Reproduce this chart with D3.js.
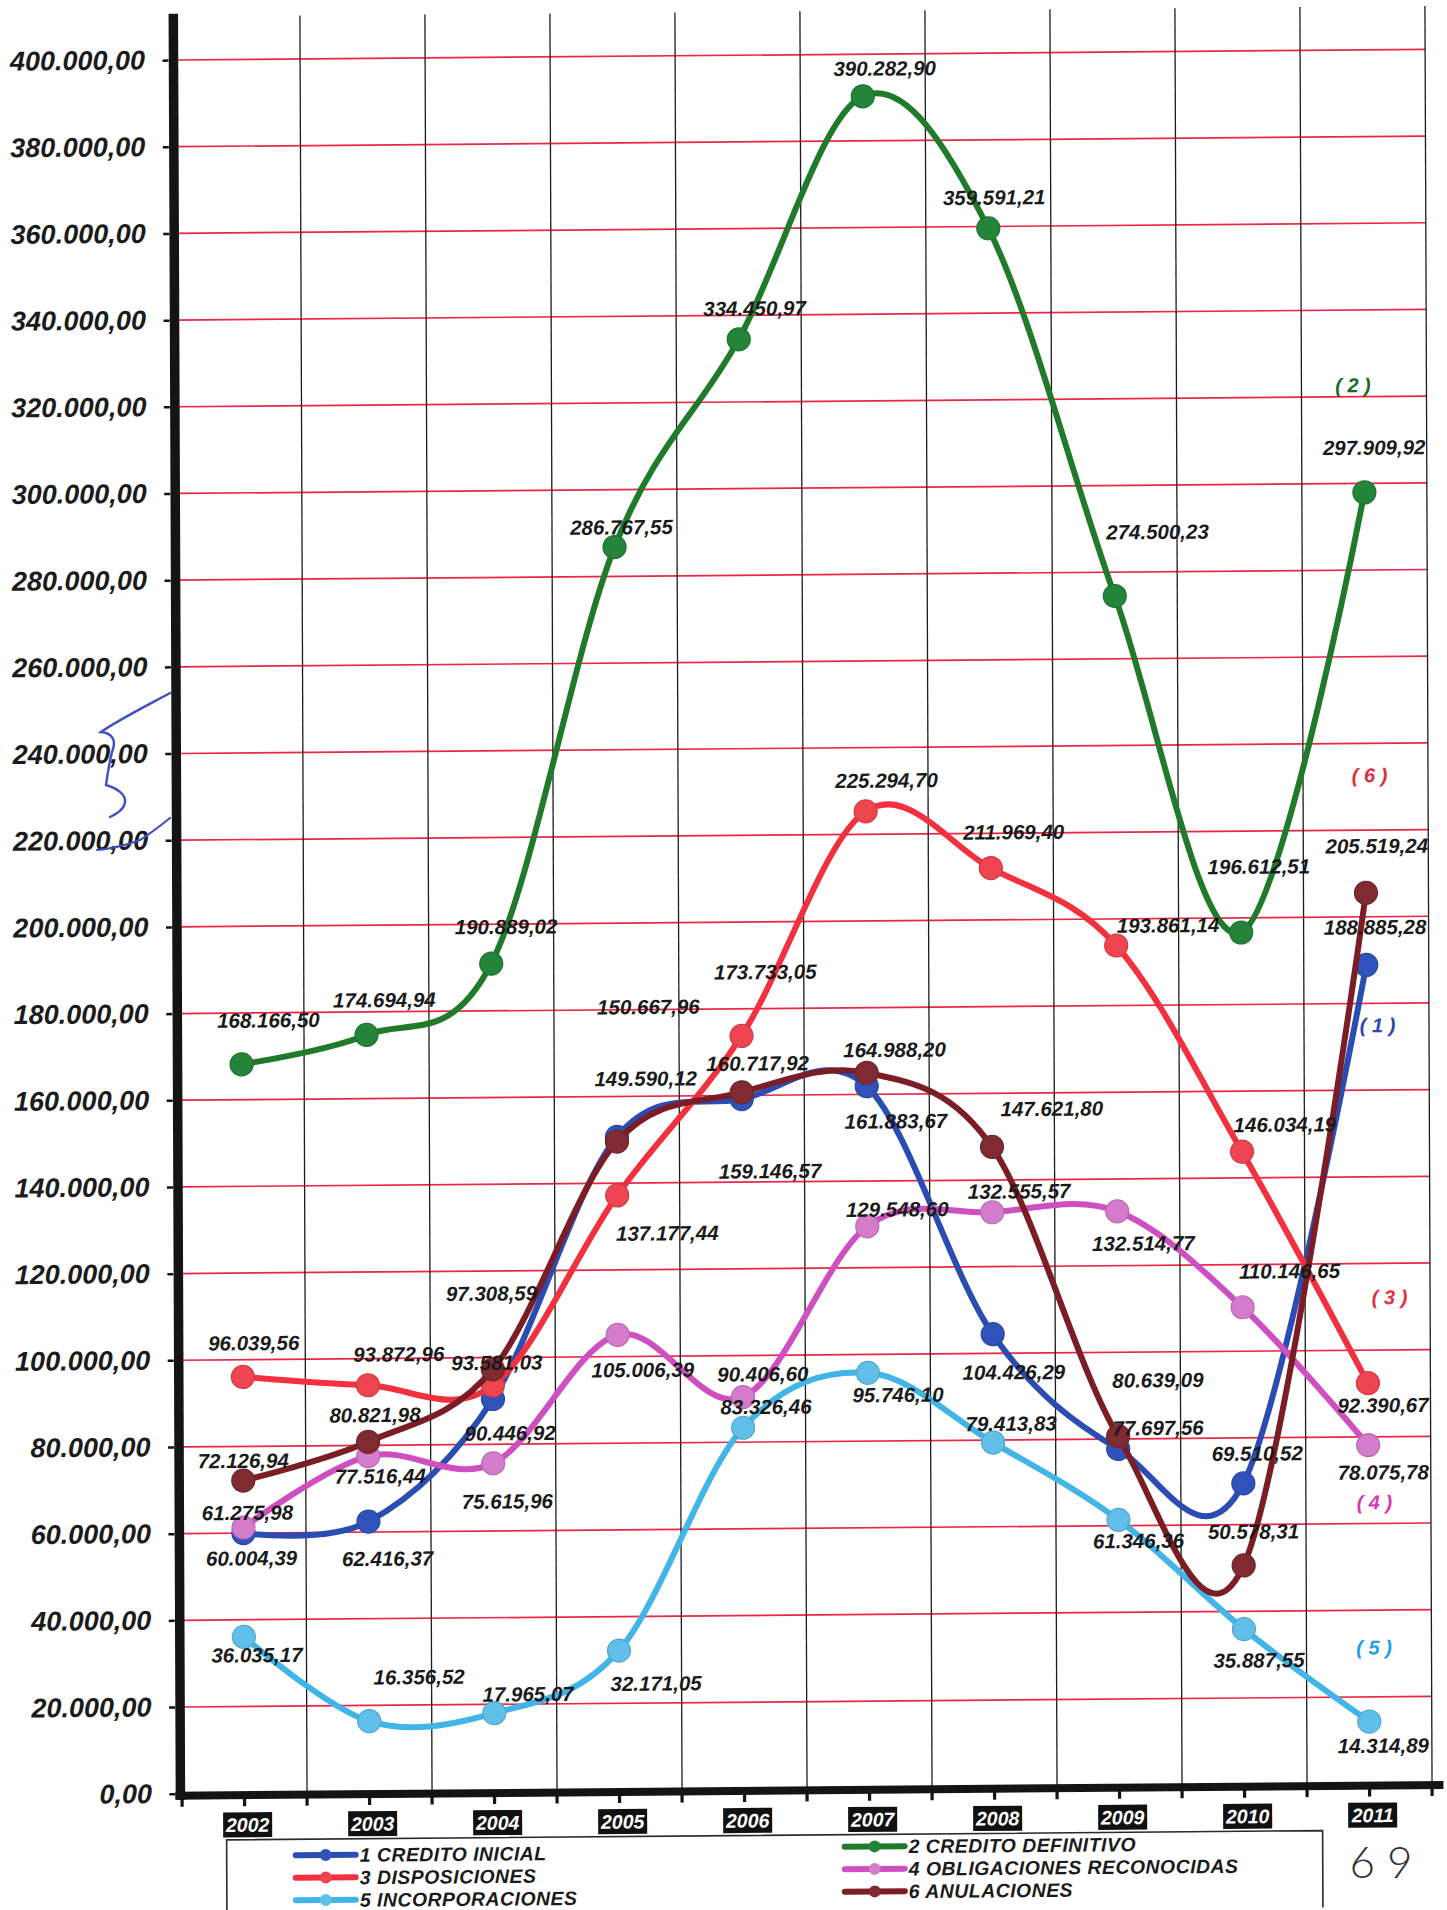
<!DOCTYPE html>
<html>
<head>
<meta charset="utf-8">
<script src="https://cdn.jsdelivr.net/npm/d3@7"></script>
<style>
  html, body { margin: 0; padding: 0; background: #fff; }
  svg { display: block; }
</style>
</head>
<body>
<svg id="chart" width="1447" height="1910"></svg>
<script>
// ---- data ----
const years = [2002, 2003, 2004, 2005, 2006, 2007, 2008, 2009, 2010, 2011];

const creditoInicial     = [60004.39, 62416.37, 90446.92, 150667.96, 159146.57, 161883.67, 104426.29, 77697.56, 69510.52, 188885.28];
const creditoDefinitivo  = [168166.50, 174694.94, 190889.02, 286767.55, 334450.97, 390282.90, 359591.21, 274500.23, 196612.51, 297909.92];
const disposiciones      = [96039.56, 93872.96, 93581.03, 137177.44, 173733.05, 225294.70, 211969.40, 193861.14, 146034.19, 92390.67];
const obligaciones       = [61275.98, 77516.44, 75615.96, 105006.39, 90406.60, 129548.60, 132555.57, 132514.77, 110146.65, 78075.78];
const incorporaciones    = [36035.17, 16356.52, 17965.07, 32171.05, 83326.46, 95746.10, 79413.83, 61346.36, 35887.55, 14314.89];
const anulaciones        = [72126.94, 80821.98, 97308.59, 149590.12, 160717.92, 164988.20, 147621.80, 80639.09, 50578.31, 205519.24];

const seriesNames = ["1 CREDITO INICIAL", "2 CREDITO DEFINITIVO", "3 DISPOSICIONES",
                     "4 OBLIGACIONES RECONOCIDAS", "5 INCORPORACIONES", "6 ANULACIONES"];
const yTickValues = d3.range(0, 400001, 20000);

// ---- layout: value label offsets (px, from each point) ----
const offInicial        = [[8,25],[19,37],[17,34],[32,-130],[28,72],[29,35],[21,38],[40,-21],[14,-30],[9,-38]];
const offDefinitivo     = [[27,-44],[18,-35],[15,-37],[7,-20],[16,-31],[22,-28],[6,-31],[43,-64],[18,-66],[10,-45]];
const offDisposiciones  = [[11,-34],[31,-31],[4,-23],[50,38],[24,-64],[21,-31],[23,-36],[52,-20],[43,-27],[15,22]];
const offObligaciones   = [[4,-15],[12,20],[14,38],[25,35],[20,-23],[30,-17],[27,-21],[26,32],[47,-36],[15,27]];
const offIncorporaciones= [[13,18],[50,-44],[34,-19],[37,33],[23,-21],[30,22],[18,-19],[20,21],[15,31],[14,24]];
const offAnulaciones    = [[0,-20],[7,-27],[-1,-76],[29,-63],[16,-29],[28,-23],[60,-38],[40,-56],[10,-34],[11,-47]];

const series = [
  { name: seriesNames[0], values: creditoInicial,    offs: offInicial,         line: "#2b4db3", dot: "#2f53ba", tag: "( 1 )", tagColor: "#2a49b0", tagAt: [11, 175000] },
  { name: seriesNames[1], values: creditoDefinitivo, offs: offDefinitivo,      line: "#1f7b2a", dot: "#23843a", tag: "( 2 )", tagColor: "#1d6a28", tagAt: [-11, 322700] },
  { name: seriesNames[2], values: disposiciones,     offs: offDisposiciones,   line: "#f3303d", dot: "#ee4550", tag: "( 3 )", tagColor: "#e82e3c", tagAt: [22, 112230] },
  { name: seriesNames[3], values: obligaciones,      offs: offObligaciones,    line: "#cf4fc0", dot: "#d47bcb", tag: "( 4 )", tagColor: "#d23cae", tagAt: [6, 64930] },
  { name: seriesNames[4], values: incorporaciones,   offs: offIncorporaciones, line: "#41b4e8", dot: "#60c0ea", tag: "( 5 )", tagColor: "#249ee0", tagAt: [5, 31470] },
  { name: seriesNames[5], values: anulaciones,       offs: offAnulaciones,     line: "#7a1d25", dot: "#802b32", tag: "( 6 )", tagColor: "#d8303c", tagAt: [4, 232670] }
];

const fmt = d3.formatLocale({ decimal: ",", thousands: ".", grouping: [3], currency: ["", ""] }).format(",.2f");
const FONT = "'Liberation Sans', Arial, Helvetica, sans-serif";

const svg = d3.select("#chart");
// the whole sheet sits slightly skewed on the page
const page = svg.append("g").attr("transform", "matrix(1,-0.0085,0.004,1,-3.72,6.8)");

// ---- scales ----
const x = d3.scaleBand().domain(years).range([178.6, 1428.6]).padding(0);
const cx = d => x(d) + x.bandwidth() / 2;
const y = d3.scaleLinear().domain([0, 410000]).range([1788.4, 11.4]);
const left = x.range()[0], right = x.range()[1];

// ---- grid ----
page.append("g").selectAll("line")
  .data(yTickValues.filter(v => v > 0)).join("line")
  .attr("x1", left).attr("x2", right)
  .attr("y1", d => y(d)).attr("y2", d => y(d))
  .attr("stroke", "#ec2646").attr("stroke-width", 1.7);

page.append("g").selectAll("line")
  .data(years).join("line")
  .attr("x1", d => x(d) + x.bandwidth()).attr("x2", d => x(d) + x.bandwidth())
  .attr("y1", y(410000)).attr("y2", y(0))
  .attr("stroke", "#1c1c1c").attr("stroke-width", 1.3);

// ---- y axis ----
const yAxis = d3.axisLeft(y).tickValues(yTickValues).tickFormat(fmt).tickSize(6).tickPadding(17.5);
const gy = page.append("g").attr("transform", "translate(172,0)").call(yAxis);
gy.select(".domain").remove();
gy.selectAll(".tick line").attr("stroke", "#111").attr("stroke-width", 2.5);
gy.selectAll(".tick text")
  .attr("font-family", FONT).attr("font-size", 27).attr("font-weight", "bold")
  .attr("font-style", "italic").attr("fill", "#1b1b1b");

page.append("line")
  .attr("x1", 177).attr("x2", 177).attr("y1", y(410000) - 3).attr("y2", y(0) + 6)
  .attr("stroke", "#141414").attr("stroke-width", 9.5);

// ---- x axis ----
page.append("line")
  .attr("x1", 172).attr("x2", 1440).attr("y1", y(0) + 2).attr("y2", y(0) + 2)
  .attr("stroke", "#141414").attr("stroke-width", 8);

const halfSteps = d3.range(0, years.length * 2 + 1).map(i => left + i * x.bandwidth() / 2);
page.append("g").selectAll("line")
  .data(halfSteps).join("line")
  .attr("x1", d => d).attr("x2", d => d)
  .attr("y1", y(0) + 4).attr("y2", y(0) + 13)
  .attr("stroke", "#141414").attr("stroke-width", 3.2);

const yearTag = page.append("g").selectAll("g")
  .data(years).join("g")
  .attr("transform", d => `translate(${cx(d) + 3},1820)`);
yearTag.append("rect")
  .attr("x", -24.5).attr("y", -12.5).attr("width", 49).attr("height", 25)
  .attr("fill", "#111");
yearTag.append("text")
  .attr("text-anchor", "middle").attr("dy", "0.36em")
  .attr("font-family", FONT).attr("font-size", 19.5).attr("font-weight", "bold")
  .attr("font-style", "italic").attr("fill", "#fff")
  .text(d => d);

// ---- series lines and markers ----
const lineGen = d3.line()
  .x((d, i) => cx(years[i]))
  .y(d => y(d))
  .curve(d3.curveCardinal.tension(0));

const gSeries = page.append("g");
series.forEach(s => {
  const g = gSeries.append("g");
  g.append("path")
    .attr("d", lineGen(s.values))
    .attr("fill", "none").attr("stroke", s.line)
    .attr("stroke-width", 6).attr("stroke-linecap", "round").attr("stroke-linejoin", "round");
  g.selectAll("circle")
    .data(s.values).join("circle")
    .attr("cx", (d, i) => cx(years[i])).attr("cy", d => y(d))
    .attr("r", 11.5)
    .attr("fill", s.dot)
    .attr("stroke", d3.color(s.dot).darker(0.4)).attr("stroke-width", 1.2);
});

// ---- value labels ----
const gLabels = page.append("g")
  .attr("font-family", FONT).attr("font-size", 20.5).attr("font-weight", "bold")
  .attr("font-style", "italic").attr("fill", "#1a1a1a").attr("text-anchor", "middle");
series.forEach(s => {
  gLabels.append("g").selectAll("text")
    .data(s.values).join("text")
    .attr("x", (d, i) => cx(years[i]) + s.offs[i][0])
    .attr("y", (d, i) => y(d) + s.offs[i][1])
    .attr("dy", "0.36em")
    .text(d => fmt(d));
});

// ---- series numbers at the right ----
page.append("g").selectAll("text")
  .data(series).join("text")
  .attr("x", s => cx(years[years.length - 1]) + s.tagAt[0])
  .attr("y", s => y(s.tagAt[1]))
  .attr("dy", "0.36em").attr("text-anchor", "middle")
  .attr("font-family", FONT).attr("font-size", 20).attr("font-weight", "bold")
  .attr("font-style", "italic").attr("fill", s => s.tagColor)
  .text(s => s.tag);

// ---- legend ----
const legend = page.append("g");
legend.append("path")
  .attr("d", "M223,1912 L223,1835 L1319,1835 L1319,1912")
  .attr("fill", "none").attr("stroke", "#2a2a2a").attr("stroke-width", 1.6);

const legendCols = [
  { x0: 292, ys: [1851, 1873.5, 1896], idx: [0, 2, 4] },
  { x0: 841, ys: [1847, 1869.5, 1892], idx: [1, 3, 5] }
];
legendCols.forEach(col => {
  col.idx.forEach((si, r) => {
    const s = series[si];
    const item = legend.append("g").attr("transform", `translate(${col.x0},${col.ys[r]})`);
    item.append("line").attr("x1", 0).attr("x2", 60).attr("y1", 0).attr("y2", 0)
      .attr("stroke", s.line).attr("stroke-width", 6).attr("stroke-linecap", "round");
    item.append("circle").attr("cx", 30).attr("cy", 0).attr("r", 6).attr("fill", s.dot);
    item.append("text").attr("x", 64).attr("dy", "0.36em")
      .attr("font-family", FONT).attr("font-size", 19.4).attr("font-weight", "bold")
      .attr("font-style", "italic").attr("letter-spacing", 0.5).attr("fill", "#1a1a1a")
      .text(s.name);
  });
});

// ---- pen marks on the sheet ----
svg.append("path")
  .attr("d", "M170,693 C150,704 118,720 101,732 C112,733 117,740 112,752 C110,760 108,770 106,785 C116,788 126,794 125,802 C124,810 116,814 110,817")
  .attr("fill", "none").attr("stroke", "#3f4fc4").attr("stroke-width", 2.4).attr("stroke-linecap", "round");
svg.append("path")
  .attr("d", "M170,818 C160,826 150,834 140,840 C124,846 108,849 97,850")
  .attr("fill", "none").attr("stroke", "#3f4fc4").attr("stroke-width", 2.2).attr("stroke-linecap", "round");

svg.append("text")
  .attr("x", 1387).attr("y", 1862).attr("dy", "0.36em").attr("text-anchor", "middle")
  .attr("font-family", "Lato, 'DejaVu Sans', sans-serif").attr("font-weight", 300)
  .attr("font-size", 44).attr("letter-spacing", 12).attr("fill", "#333")
  .text("69");
</script>
</body>
</html>
